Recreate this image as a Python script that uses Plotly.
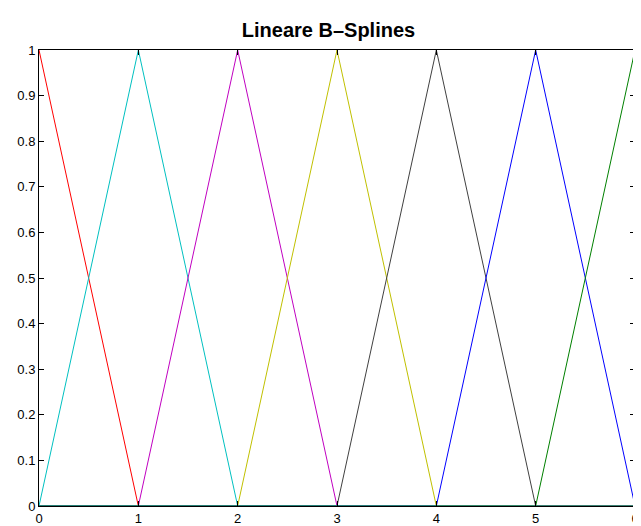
import plotly.graph_objects as go

knots = [0, 1, 2, 3, 4, 5, 6]
splines = [
    [1, 0, 0, 0, 0, 0, 0],
    [0, 1, 0, 0, 0, 0, 0],
    [0, 0, 1, 0, 0, 0, 0],
    [0, 0, 0, 1, 0, 0, 0],
    [0, 0, 0, 0, 1, 0, 0],
    [0, 0, 0, 0, 0, 1, 0],
    [0, 0, 0, 0, 0, 0, 1],
]
colors = ["#ff0000", "#00c0c0", "#c000c0", "#c0c000", "#404040", "#0000ff", "#008000"]
baseline = [0, 0, 0, 0, 0, 0, 0]
y_ticks = [0, 0.1, 0.2, 0.3, 0.4, 0.5, 0.6, 0.7, 0.8, 0.9, 1]
y_labels = ["0", "0.1", "0.2", "0.3", "0.4", "0.5", "0.6", "0.7", "0.8", "0.9", "1"]

fig = go.Figure()
for vals, col in zip(splines, colors):
    fig.add_trace(go.Scatter(x=knots, y=vals, mode="lines", cliponaxis=False,
                             line=dict(color=col, width=1), showlegend=False))
fig.add_trace(go.Scatter(x=knots, y=baseline, mode="lines", cliponaxis=False,
                         line=dict(color="#2a8a80", width=1.5), showlegend=False))

fig.update_layout(
    width=641, height=526,
    margin=dict(l=31, r=14, t=42, b=28, autoexpand=False),
    paper_bgcolor="white", plot_bgcolor="white",
    title=dict(text="<b>Lineare B\u2013Splines</b>", x=0.5, xanchor="center",
               y=0.958, yanchor="middle",
               font=dict(family="Liberation Sans, Arial", size=20, color="black")),
    font=dict(family="Liberation Sans, Arial", size=13, color="black"),
)
axis = dict(showgrid=False, zeroline=False, showline=True, linecolor="black",
            linewidth=1, mirror="ticks", ticks="inside", ticklen=5, tickcolor="black",
            automargin=False)
fig.update_xaxes(range=[0, 6], dtick=1, **axis)
fig.update_yaxes(range=[0, 1], tickvals=y_ticks, ticktext=y_labels, **axis)

# window shadow border at right and bottom
fig.add_shape(type="line", xref="paper", yref="paper", x0=-0.052, x1=1.0185, y0=-0.055, y1=-0.055,
              line=dict(color="black", width=4))
fig.add_shape(type="line", xref="paper", yref="paper", x0=1.0185, x1=1.0185, y0=-0.055, y1=1.092,
              line=dict(color="black", width=4))

fig.write_html("out.html")
